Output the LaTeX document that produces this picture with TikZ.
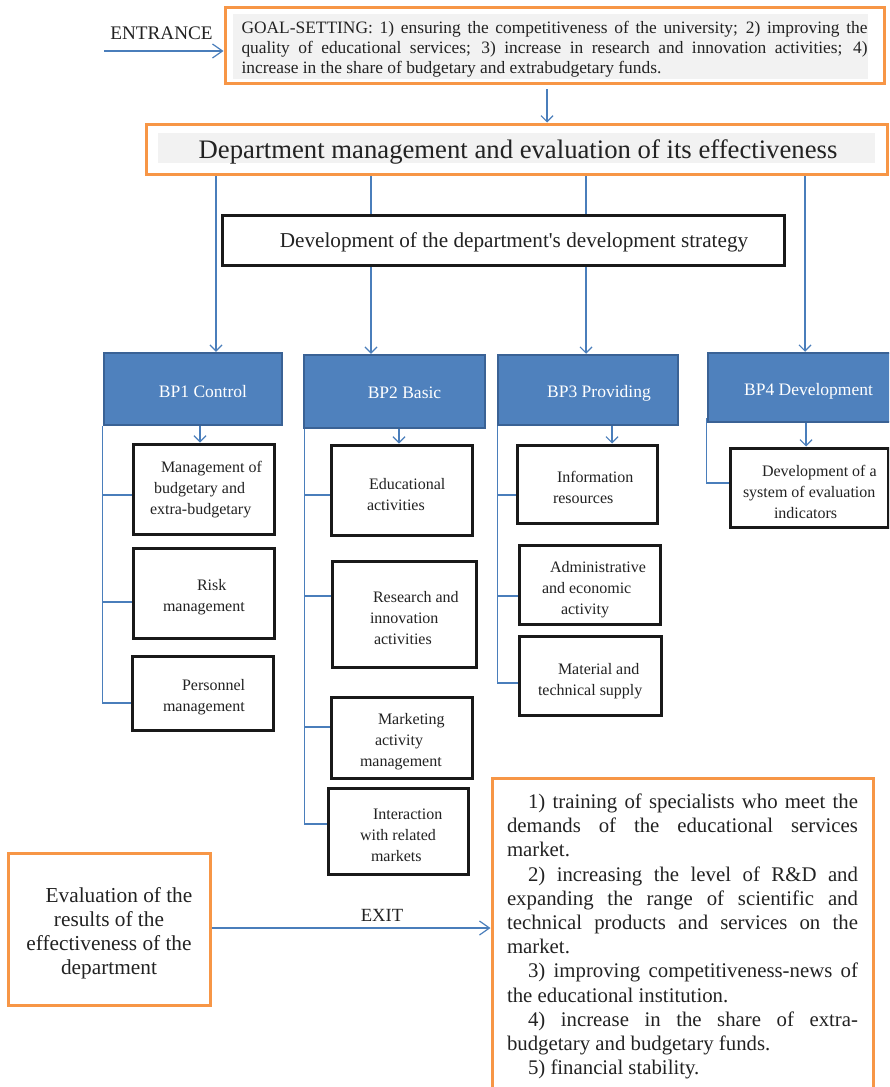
\documentclass[tikz,border=0pt]{standalone}
\usepackage{fontspec}
\setmainfont{Liberation Serif}
\usetikzlibrary{arrows.meta,backgrounds}
\definecolor{org}{HTML}{F79646}
\definecolor{bpblue}{HTML}{4F81BD}
\definecolor{bpedge}{HTML}{3A6295}
\definecolor{ln}{HTML}{4A7EBB}
\definecolor{txt}{HTML}{222222}
\definecolor{graybg}{HTML}{F2F2F2}
% strut that lowers the text block of a node by half its argument
\newcommand\dn[1]{\rule{0pt}{\dimexpr 0.7em+#1\relax}}
\begin{document}
\begin{tikzpicture}[x=1pt,y=-1pt,
  orangebox/.style={draw=org, line width=3pt, inner sep=0pt, rectangle, text=txt},
  blackbox/.style={draw=black!90, line width=3pt, fill=white, inner sep=0pt, rectangle, text=txt},
  sub/.style 2 args={blackbox, minimum width=#1, text width=#1, minimum height=#2, align=flush left, font=\fontsize{16}{21}\selectfont},
  bpbox/.style 2 args={draw=bpedge, line width=2.5pt, fill=bpblue, text=white, inner sep=0pt, rectangle, minimum width=#1, text width=#1, minimum height=#2, align=flush center, font=\fontsize{17.5}{21}\selectfont},
  conn/.style={draw=ln, line width=1.2pt},
  arr/.style={conn, -{Straight Barb[length=6pt,width=12pt]}},
  bigarr/.style={conn, -{Straight Barb[length=10pt,width=14pt]}},
]
\useasboundingbox (0,0) rectangle (889,1087);
\clip (0,0) rectangle (889,1087);

% grey fills
\fill[graybg] (233,14) rectangle (868,79);
\fill[graybg] (158,133) rectangle (875,163);

% top
\node[text=txt, font=\fontsize{19.2}{22}\selectfont, inner sep=0pt] (entr) at (161.5,33) {ENTRANCE};
\node[orangebox, minimum width=659pt, minimum height=76pt, text width=626pt, align=justify, font=\fontsize{17.4}{20}\selectfont] (goal) at (554.5,45)
 {\dn{9pt}GOAL-SETTING: 1) ensuring the competitiveness of the university; 2) improving the\linebreak quality of educational services; 3) increase in research and innovation activities; 4)\linebreak increase in the share of budgetary and extrabudgetary funds.};

\node[orangebox, minimum width=741pt, text width=741pt, align=flush center, minimum height=50pt, font=\fontsize{26.7}{30}\selectfont] (main) at (516.5,149)
 {\dn{6pt}\hspace*{3pt}Department management and evaluation of its effectiveness};

\node[blackbox, minimum width=562pt, text width=562pt, align=flush center, minimum height=50pt, font=\fontsize{21.2}{25}\selectfont] (strat) at (503,240)
 {\dn{4pt}\hspace*{22pt}Development of the department\textquotesingle s development strategy};

% BP boxes
\node[bpbox={178pt}{72pt}] (bp1) at (193,389) {\dn{4pt}\hspace*{20pt}BP1 Control};
\node[bpbox={181pt}{73pt}] (bp2) at (394.5,391.5) {\dn{2pt}\hspace*{20pt}BP2 Basic};
\node[bpbox={180pt}{70pt}] (bp3) at (588,390) {\dn{6pt}\hspace*{22pt}BP3 Providing};
\node[bpbox={188pt}{69pt}] (bp4) at (802,387.5) {\dn{8pt}\hspace*{13pt}BP4 Development};

% BP1 sub boxes
\node[sub={141pt}{90pt}] (m1) at (203.5,489) {\dn{1pt}\hspace*{28pt}Management of\\\hspace*{21pt}budgetary and\\\hspace*{17pt}extra-budgetary};
\node[sub={141pt}{90pt}] (m2) at (203.5,593) {\dn{8pt}\hspace*{64pt}Risk\\\hspace*{30pt}management};
\node[sub={141pt}{74pt}] (m3) at (202.5,693) {\dn{8pt}\hspace*{50pt}Personnel\\\hspace*{31pt}management};

% BP2 sub boxes
\node[sub={141pt}{90pt}] (b1) at (401.5,490) {\dn{8pt}\hspace*{38pt}Educational\\\hspace*{36pt}activities};
\node[sub={144pt}{106pt}] (b2) at (404,614) {\dn{8pt}\hspace*{41pt}Research and\\\hspace*{38pt}innovation\\\hspace*{42pt}activities};
\node[sub={141pt}{81pt}] (b3) at (401.5,737.5) {\dn{9pt}\hspace*{47pt}Marketing\\\hspace*{44pt}activity\\\hspace*{29pt}management};
\node[sub={140pt}{86pt}] (b4) at (398,831) {\dn{8pt}\hspace*{45pt}Interaction\\\hspace*{32pt}with related\\\hspace*{43pt}markets};

% BP3 sub boxes
\node[sub={140pt}{78pt}] (p1) at (587,484) {\dn{7pt}\hspace*{40pt}Information\\\hspace*{36pt}resources};
\node[sub={141pt}{79pt}] (p2) at (589.5,584.5) {\dn{11pt}\hspace*{31pt}Administrative\\\hspace*{23pt}and economic\\\hspace*{42pt}activity};
\node[sub={142pt}{79pt}] (p3) at (590,675.5) {\dn{11pt}\hspace*{39pt}Material and\\\hspace*{19pt}technical supply};

% BP4 sub box
\node[sub={158pt}{79pt}] (d1) at (809,487.5) {\dn{8pt}\hspace*{32pt}Development of a\\\hspace*{13pt}system of evaluation\\\hspace*{44pt}indicators};

% bottom
\node[orangebox, minimum width=202pt, text width=202pt, minimum height=152pt, align=flush center, font=\fontsize{21.3}{24}\selectfont] (eval) at (109,929)
 {\dn{9pt}\hspace*{20pt}Evaluation of the\\results of the\\effectiveness of the\\department};
\node[orangebox, minimum width=381pt, minimum height=317pt, text width=351pt, align=justify, font=\fontsize{20.8}{24.2}\selectfont] (out) at (682.5,936.5)
 {\noindent\hspace*{21pt}1) training of specialists who meet the\linebreak demands of the educational services\linebreak market.\par
  \noindent\hspace*{21pt}2) increasing the level of R\&D and\linebreak expanding the range of scientific and\linebreak technical products and services on the\linebreak market.\par
  \noindent\hspace*{21pt}3) improving competitiveness-news of\linebreak the educational institution.\par
  \noindent\hspace*{21pt}4) increase in the share of extra-\linebreak budgetary and budgetary funds.\par
  \noindent\hspace*{21pt}5) financial stability.};
\node[text=txt, font=\fontsize{18.6}{22}\selectfont, inner sep=0pt] (exitlbl) at (382,915) {EXIT};

% coordinates
\coordinate (ein) at (104,51);
\coordinate (gmtop) at (547,89);
\coordinate (c1) at (216,0);
\coordinate (c2) at (371,0);
\coordinate (c3) at (586,0);
\coordinate (c4) at (805,0);
\coordinate (s1) at (200,0);
\coordinate (s2) at (399,0);
\coordinate (s3) at (612,0);
\coordinate (s4) at (806,0);
\coordinate (ex) at (0,928);
\coordinate (t1) at ([xshift=0pt]bp1.south west);
\coordinate (t2) at ([xshift=2pt]bp2.south west);
\coordinate (t3) at ([xshift=1pt]bp3.south west);
\coordinate (t4) at ([xshift=0pt]bp4.south west);

\begin{scope}[on background layer]
% entrance / goal
\draw[bigarr] (ein) -- (ein -| goal.west);
\draw[arr] (gmtop) -- (main.north -| gmtop);
% main to BPs
\draw[arr] (main.south -| c1) -- (bp1.north -| c1);
\draw[arr] (main.south -| c2) -- (bp2.north -| c2);
\draw[arr] (main.south -| c3) -- (bp3.north -| c3);
\draw[arr] (main.south -| c4) -- (bp4.north -| c4);
% BP to first sub
\draw[arr] (bp1.south -| s1) -- (m1.north -| s1);
\draw[arr] (bp2.south -| s2) -- (b1.north -| s2);
\draw[arr] (bp3.south -| s3) -- (p1.north -| s3);
\draw[arr] (bp4.south -| s4) -- (d1.north -| s4);
% BP1 tree
\draw[conn] (t1) |- ([yshift=-10pt]m3.west);
\draw[conn] ([yshift=-6pt]m1.west) -- ([yshift=-6pt]m1.west -| t1);
\draw[conn] ([yshift=-9pt]m2.west) -- ([yshift=-9pt]m2.west -| t1);
% BP2 tree
\draw[conn] (t2) |- ([yshift=7pt]b4.west);
\draw[conn] ([yshift=-5pt]b1.west) -- ([yshift=-5pt]b1.west -| t2);
\draw[conn] ([yshift=18pt]b2.west) -- ([yshift=18pt]b2.west -| t2);
\draw[conn] ([yshift=10.5pt]b3.west) -- ([yshift=10.5pt]b3.west -| t2);
% BP3 tree
\draw[conn] (t3) |- ([yshift=-7.5pt]p3.west);
\draw[conn] ([yshift=-11pt]p1.west) -- ([yshift=-11pt]p1.west -| t3);
\draw[conn] ([yshift=-11.5pt]p2.west) -- ([yshift=-11.5pt]p2.west -| t3);
% BP4 tree
\draw[conn] ([yshift=5pt]t4) |- ([yshift=4.5pt]d1.west);
% exit
\draw[bigarr] (eval.east |- ex) -- (out.west |- ex);
\end{scope}
\end{tikzpicture}
\end{document}
